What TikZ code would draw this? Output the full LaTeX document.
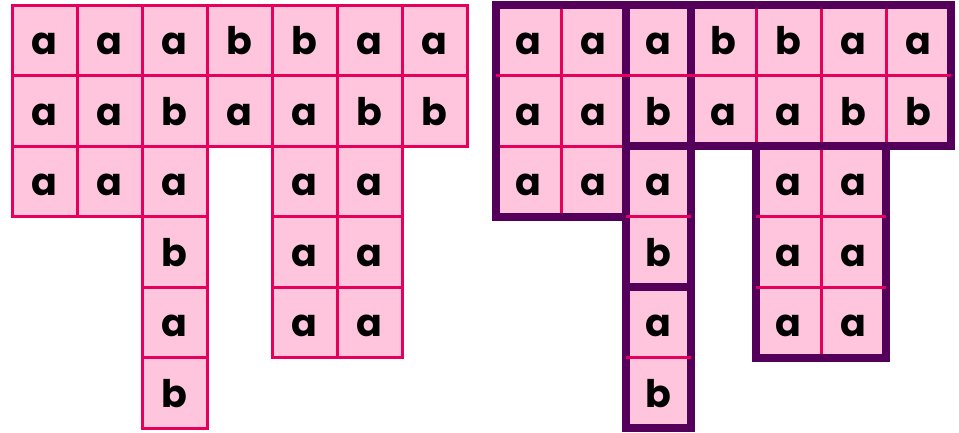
\documentclass[tikz,border=0pt]{standalone}
\usepackage{fontspec}
\setmainfont{Poppins}
\usetikzlibrary{calc}

\definecolor{cellpink}{RGB}{255,197,220}
\definecolor{gridpink}{RGB}{230,0,92}
\definecolor{piecepurple}{RGB}{84,0,90}

\begin{document}
\begin{tikzpicture}[
  x=1pt,y=-1pt,
  line cap=butt,line join=miter,
  cell/.style={draw=gridpink,fill=cellpink,line width=3pt,
    minimum width=65pt,minimum height=70.5pt,inner sep=0pt,outer sep=0pt,
    text height=29pt,text depth=0pt,
    font=\fontsize{38}{38}\selectfont\bfseries},
  piece/.style={draw=piecepurple,line width=8pt},
  seam/.style={draw=gridpink,line width=3pt}
]
  % Grid dimensions (in pixels of the original figure).
  \def\cw{65}
  \def\ch{70.5}
  \def\ty{5}
  \useasboundingbox (0,0) rectangle (959,432);

  % The same word grid twice: plain on the left, cut into pieces on the right.
  \foreach \r/\c/\letter in {
    0/0/a, 0/1/a, 0/2/a, 0/3/b, 0/4/b, 0/5/a, 0/6/a,
    1/0/a, 1/1/a, 1/2/b, 1/3/a, 1/4/a, 1/5/b, 1/6/b,
    2/0/a, 2/1/a, 2/2/a, 2/4/a, 2/5/a,
    3/2/b, 3/4/a, 3/5/a,
    4/2/a, 4/4/a, 4/5/a,
    5/2/b}{
    \node[cell] (L-\r-\c) at ({12+(\c+0.5)*\cw},{\ty+(\r+0.5)*\ch}) {\letter};
    \node[cell] (R-\r-\c) at ({496+(\c+0.5)*\cw},{\ty+(\r+0.5)*\ch}) {\letter};
  }

  % Outlines of the six pieces.
  \foreach \from/\to in {0-0/2-1, 0-2/1-2, 0-3/1-6, 2-2/3-2, 4-2/5-2, 2-4/4-5}
    \draw[piece] (R-\from.north west) rectangle (R-\to.south east);

  % Horizontal seams run over the outlines.
  \draw[seam] (R-0-0.south west) -- (R-0-6.south east);
  \draw[seam] (R-2-2.south west) -- (R-2-2.south east);
  \draw[seam] (R-2-4.south west) -- (R-2-5.south east);
  \draw[seam] (R-3-4.south west) -- (R-3-5.south east);
  \draw[seam] (R-4-2.south west) -- (R-4-2.south east);
\end{tikzpicture}
\end{document}
